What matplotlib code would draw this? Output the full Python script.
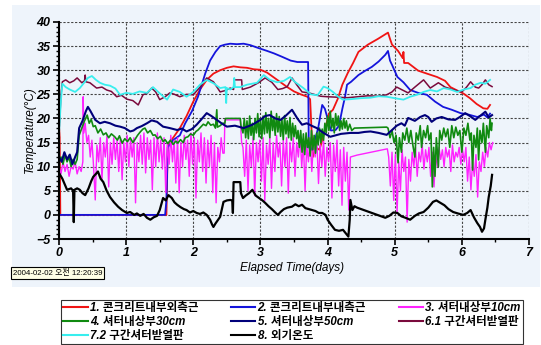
import numpy as np
import matplotlib
matplotlib.use('Agg')
import matplotlib.pyplot as plt
from matplotlib.patches import Rectangle

plt.rcParams['font.family'] = ['Liberation Sans', 'Noto Sans CJK KR']

labels = ['1. 콘크리트내부외측근', '2. 콘크리트내부내측근', '3. 셔터내상부10cm',
          '4. 셔터내상부30cm', '5. 셔터내상부50cm', '6.1 구간셔터받열판',
          '7.2 구간셔터받열판', '8. 외기온도']
colors = ['#f01414', '#1414dc', '#ff22ff', '#108a10', '#00007a', '#7a0a3c', '#38eeee', '#000000']
stamp = '2004-02-02 오전 12:20:39'

# 1. red
t1 = [0, 0.01, 0.02, 1.60, 1.62, 1.70, 1.80, 1.90, 2.00, 2.10, 2.20, 2.30, 2.40, 2.50, 2.60, 2.70,
      2.80, 2.90, 3.00, 3.10, 3.20, 3.30, 3.40, 3.50, 3.60, 3.70, 3.74, 3.78, 3.82, 3.88, 3.95, 4.02,
      4.08, 4.15, 4.22, 4.30, 4.38, 4.46, 4.60, 4.75, 4.90, 4.93, 4.96, 5.05, 5.12, 5.13, 5.14, 5.20,
      5.35, 5.50, 5.63, 5.75, 5.83, 5.93, 6.02, 6.12, 6.22, 6.32, 6.38, 6.42]
v1 = [18.5, 16, 0, 0, 14.5, 16, 18, 20.5, 23.5, 26, 28, 29.3, 30, 30.5, 30.8, 30.6,
      30.5, 30.2, 30.1, 29.5, 28.5, 27.5, 26.5, 25.6, 25, 24.5, 24, 12, 14, 13.5, 17, 21,
      21.8, 24, 27, 29.4, 31.5, 33.8, 35.3, 36.5, 37.8, 36.5, 35.3, 34, 32.5, 33.8, 31.5, 31.5,
      29.9, 29.2, 28.6, 27.8, 26.5, 25.8, 25.2, 24.2, 23, 22.1, 22, 22.8]

# 2. blue
t2 = [0, 1.58, 1.60, 1.62, 1.70, 1.80, 1.88, 1.98, 2.07, 2.18, 2.25, 2.33, 2.40, 2.47, 2.55, 2.65,
      2.75, 2.85, 2.97, 3.10, 3.20, 3.32, 3.45, 3.55, 3.71, 3.72, 3.76, 3.80, 3.86, 3.92, 3.96, 4.00,
      4.05, 4.12, 4.17, 4.22, 4.26, 4.29, 4.35, 4.46, 4.55, 4.66, 4.76, 4.86, 4.90, 4.93, 4.96, 5.04,
      5.13, 5.23, 5.35, 5.48, 5.60, 5.72, 5.85, 5.98, 6.10, 6.23, 6.33, 6.38, 6.42]
v2 = [0, 0, 3, 14, 15.5, 16.5, 19, 21.5, 24.5, 29.4, 32, 33.8, 35, 35.3, 35.5, 35.4,
      35.5, 35.2, 34.6, 34, 33.5, 32.8, 32, 31.7, 31.7, 14, 13.5, 15, 18, 22.8, 22, 20,
      17.5, 17.6, 18.5, 22, 24.5, 27, 27.6, 29, 29.8, 30.7, 31.8, 33.2, 34, 32, 31.1, 28.6,
      27.5, 25.9, 25.3, 24.9, 23.5, 22.4, 21.8, 21.1, 20.8, 20.3, 20.8, 20.2, 21]

# 3. magenta
t3a = [0, 0.03, 0.06, 0.09, 0.12, 0.15, 0.18, 0.21, 0.24, 0.27, 0.30, 0.33, 0.355, 0.36, 0.37]
v3a = [10, 8.5, 11, 9, 10.5, 8, 10, 9.5, 11, 8.5, 10, 9, 11, 24.5, 17]
v3b = [19, 15, 16.5, 12, 15.5, 10, 3.1, 14.5, 11, 16, 7.3, 15, 12, 16.5, 5.8, 15, 10.5, 16, 11.5,
       15.5, 9, 16, 7.3, 15, 11, 16.5, 10, 15.5, 12, 16, 2.5, 15, 11, 16.5, 10.5, 17, 8.7, 16,
       11.5, 15.5, 5.2, 16, 10, 17, 11, 15.5, 9.5, 16, 4.6, 15, 10.5, 16.5, 11, 15.5, 6.6, 16,
       4.6, 15, 10, 16.5, 11.5, 15.5, 8, 17, 10.5, 16, 3.5, 15.5, 11, 17, 9, 16, 6.6, 15.5, 10,
       16.5, 4.6, 15, 2.5, 14, 11, 16, 12.8]
t3c = [2.46, 2.47, 2.70, 2.72]
v3c = [12.8, 19.7, 19.7, 15]
v3d = [14, 8, 15.5, 5, 14.5, 10, 16, 4, 15, 11, 15.5, 7, 16, 3, 14.5, 10.5, 16, 5.5, 15, 9,
       16.5, 12, 15, 6, 15.5, 10, 16, 4.5, 15, 11, 16, 8, 15, 12, 16.5, 10, 15, 5, 14.5, 11,
       16, 9, 15, 12, 15.5, 6.5, 14.5, 10, 15.5, 8, 14, 11, 15, 3.5, 14.5, 9, 15.5, 6, 13.5,
       2, 14, 7, 13, 1, 12]
t3e = [4.44, 4.89]
v3e = [12.4, 13.7]
v3f = [12, 6, 13, 3, 12.5, 0.4, 11, 5, 13.5, 9, 12, -1.5, 11.5, 7, 13, 10, 14, 8, 13, 11,
       14.5, 9.5, 13.5, 11, 14, 8, 13, 5.8, 12.5, 10, 14, 11.5, 13.5, 10, 14, 12, 13.5, 9,
       14.5, 11, 13, 12, 14, 10.5, 13.5, 11, 14, 7, 12, 5.2, 11, 8, 12.5, 3.7, 11, 9, 13, 10,
       14, 12, 15, 13.5, 15]

# 4. green
t4a = [0, 0.03, 0.06, 0.09, 0.12, 0.15, 0.18, 0.21, 0.24, 0.27, 0.30, 0.34, 0.38, 0.42, 0.45,
       0.48, 0.51, 0.54, 0.58, 0.62, 0.66, 0.70, 0.74, 0.78, 0.83, 0.87, 0.90, 0.94, 0.98, 1.02,
       1.06, 1.10, 1.13, 1.17, 1.21, 1.25, 1.28, 1.32, 1.36, 1.40, 1.43, 1.47, 1.51, 1.55, 1.58,
       1.62, 1.66, 1.70, 1.74, 1.77, 1.81, 1.85, 1.88, 1.92, 1.96, 2.00, 2.04, 2.07, 2.11, 2.15,
       2.19, 2.22, 2.26, 2.30, 2.33, 2.35, 2.36, 2.40, 2.44, 2.47, 2.48, 2.70, 2.71]
v4a = [11, 12, 10.5, 12.5, 11, 12, 10, 11.5, 10.5, 11.5, 16.5, 18, 19.5, 20.7, 19,
       19.8, 18.3, 18.5, 17, 17.8, 16.6, 17, 16, 16.8, 16.2, 15.5, 16.4, 14.9, 15.8, 15.2,
       16, 15, 15.6, 16.5, 17.2, 17.8, 18, 17, 17.5, 16.5, 16.6, 15.8, 16.3, 15.2, 15.6,
       14.8, 15.5, 14.6, 15.3, 14.9, 15.6, 15, 16, 16.2, 16.8, 16.5, 17.3, 17.6, 18.2, 18.8,
       18.5, 19.3, 18.6, 18.8, 18, 21.8, 18.2, 18.5, 19, 19, 20, 20, 18.5]
v4b = [17, 20, 16, 19.5, 15.8, 20.5, 16.5, 19, 15.6, 20, 17, 21, 16.2, 19.8, 15.8, 20.5, 16.8,
       21.2, 17, 20, 16, 21.5, 17.5, 20.3, 16.5, 21, 17.2, 20.4, 16.3, 19.8, 15.6, 20.6, 16.8,
       19.5, 16, 20.2, 15.5, 19, 16.2, 18.5, 15.8, 17.5, 14, 17.5, 13, 16.8, 12.5, 17, 14, 16,
       12.2, 17.5, 13.5, 16.5, 12.8, 17, 14.5, 18, 15, 17.8, 15.5, 19, 17, 20.5, 17.5, 21.5,
       18, 20, 17, 21, 18.5, 20.5, 17.5, 19.5, 17.8, 20, 18, 19.5, 17.5]
t4c = [4.33, 4.36, 4.40, 4.88]
v4c = [18.8, 17.5, 18, 18.2]
t4d = [4.90, 4.93, 4.96, 4.99, 5.02, 5.05, 5.07, 5.10, 5.12, 5.15, 5.18, 5.21, 5.24, 5.27, 5.30,
       5.32, 5.35, 5.38, 5.40, 5.43, 5.46, 5.49, 5.51, 5.54, 5.56, 5.58, 5.60, 5.62, 5.65, 5.67,
       5.70, 5.73, 5.76, 5.79, 5.82, 5.85, 5.88, 5.91, 5.94, 5.97, 6.00, 6.03, 6.06, 6.09, 6.12,
       6.14, 6.16, 6.18, 6.21, 6.23, 6.25, 6.27, 6.30, 6.32, 6.35, 6.37, 6.40, 6.42, 6.44, 6.45]
v4d = [18, 16, 17.5, 15, 16.5, 10.8, 16, 13, 17, 15.5, 18, 15, 17.5, 14.5, 12,
       17, 15.5, 18.5, 14, 17.5, 16, 18.5, 15.5, 17, 5.8, 14, 8, 16, 10, 17.5,
       15.5, 18, 16.2, 17.8, 14, 18.5, 16, 18.2, 16.5, 17.5, 13, 18, 16.5, 19, 15.5,
       17, 9.3, 16.5, 14, 18, 11.4, 17.5, 15, 19, 13, 18.5, 16, 20, 17.5, 19]

# 5. navy
t5 = [0, 0.04, 0.08, 0.12, 0.16, 0.20, 0.24, 0.27, 0.30, 0.35, 0.40, 0.43, 0.47, 0.54, 0.61, 0.68,
      0.76, 0.84, 0.91, 0.98, 1.06, 1.11, 1.16, 1.23, 1.31, 1.38, 1.46, 1.55, 1.65, 1.76, 1.83,
      1.90, 1.98, 2.05, 2.12, 2.20, 2.27, 2.35, 2.42, 2.50, 2.62, 2.75, 2.88, 3.00, 3.07, 3.14,
      3.22, 3.30, 3.38, 3.47, 3.55, 3.62, 3.69, 3.76, 3.84, 3.94, 4.04, 4.12, 4.20, 4.34, 4.46,
      4.55, 4.64, 4.76, 4.88, 4.96, 5.03, 5.10, 5.15, 5.20, 5.30, 5.38, 5.45, 5.50, 5.55, 5.62,
      5.70, 5.80, 5.90, 5.97, 6.05, 6.12, 6.20, 6.27, 6.35, 6.40, 6.45]
v5 = [12, 11, 13, 11.5, 12.5, 10.5, 12, 13, 18, 19.5, 21.5, 22.4, 21.5, 19.7, 19, 19.3,
      19, 18.5, 18.3, 18, 17.3, 17.5, 18, 18.4, 19, 19.6, 19.3, 18.3, 18, 17.6, 17.9,
      17.3, 17.8, 18.7, 19.8, 21.1, 20.5, 19.7, 19, 18.3, 18.5, 18, 18.7, 19.7, 20.5, 20.7,
      20, 19.7, 20.6, 21.8, 20, 18.7, 19, 18.5, 18, 17, 16.2, 16.5, 16.8, 17, 17,
      17.2, 17.3, 17, 16.6, 17.6, 18.5, 19, 18.5, 20.1, 19.5, 20.3, 20.7, 20.3, 19.3, 20,
      20.3, 19.8, 19.7, 20.3, 21.1, 20.5, 19.7, 20.5, 21.4, 20.2, 20.7]

# 6.1 maroon
t6 = [0, 0.03, 0.05, 0.10, 0.16, 0.22, 0.27, 0.34, 0.38, 0.39, 0.40, 0.46, 0.56, 0.64, 0.71, 0.78,
      0.86, 0.93, 1.01, 1.10, 1.18, 1.25, 1.32, 1.38, 1.44, 1.50, 1.58, 1.65, 1.72, 1.80, 1.90,
      2.00, 2.10, 2.20, 2.30, 2.40, 2.48, 2.55, 2.60, 2.61, 2.72, 2.73, 2.85, 2.97, 3.07, 3.17,
      3.26, 3.33, 3.40, 3.47, 3.54, 3.62, 3.72, 3.82, 3.90, 4.00, 4.15, 4.30, 4.45, 4.60, 4.75,
      4.88, 4.96, 5.03, 5.10, 5.20, 5.30, 5.43, 5.53, 5.65, 5.75, 5.86, 6.00, 6.07, 6.13, 6.20,
      6.25, 6.30, 6.35, 6.40, 6.45]
v6 = [17, 25, 27.6, 28, 27.4, 27.8, 28.4, 27.4, 27.8, 29, 27.6, 27.4, 26.3, 26.5, 25.9, 25.6,
      24.5, 24.8, 24, 23.7, 22.8, 24.9, 25.3, 26.3, 25.5, 23.9, 24.5, 25.3, 25, 24.5, 25,
      24.9, 26.5, 28.4, 27.6, 25.5, 25.8, 26.3, 26, 28, 28, 26, 26.5, 27.4, 28.4, 27.5,
      26, 26.2, 26.6, 28.4, 27, 25.5, 25.3, 24.9, 24.6, 24.5, 24.4, 24.3, 24.5, 24.7, 24.6,
      24.9, 25.5, 26.5, 26, 25.3, 26.5, 28, 26.3, 27.4, 26.5, 26, 25.5, 26.5, 27.6, 26.5,
      26.3, 27, 28, 27, 26.6]

# 7.2 cyan
t7 = [0, 0.03, 0.05, 0.10, 0.16, 0.24, 0.31, 0.38, 0.43, 0.49, 0.55, 0.61, 0.68, 0.76, 0.84, 0.91,
      1.00, 1.10, 1.20, 1.31, 1.40, 1.50, 1.61, 1.70, 1.80, 1.90, 2.00, 2.10, 2.20, 2.30, 2.40,
      2.48, 2.49, 2.50, 2.55, 2.60, 2.61, 2.62, 2.70, 2.80, 2.95, 3.05, 3.14, 3.25, 3.35, 3.44,
      3.52, 3.64, 3.75, 3.85, 3.94, 4.00, 4.08, 4.16, 4.23, 4.35, 4.50, 4.64, 4.76, 4.88, 5.00,
      5.13, 5.23, 5.33, 5.43, 5.53, 5.63, 5.73, 5.83, 5.93, 6.03, 6.13, 6.20, 6.28, 6.35, 6.42]
v7 = [17, 24, 27.2, 26.5, 26, 25.5, 26.3, 27.5, 28.4, 28.8, 28, 27.4, 27, 26.8, 26.2, 24.9,
      25.3, 25.1, 25.6, 25.3, 26.5, 25.2, 23.9, 26, 25.5, 24.5, 25.5, 27, 28, 27.3, 26.3,
      26.5, 23.2, 26.3, 26, 26.5, 28.4, 26.5, 26.5, 27, 27.4, 29, 28, 27.5, 27.8, 28.6,
      27.5, 26.3, 25, 24.8, 26.6, 26.3, 25.5, 24.5, 23.9, 24, 24.2, 24.3, 24.6, 24.5, 24.2,
      23.9, 24.5, 24.9, 25.5, 25.9, 25.6, 26.3, 26, 25.5, 26, 26.3, 27, 27.4, 27.2, 28]

# 8. black
t8 = [0, 0.05, 0.12, 0.18, 0.21, 0.22, 0.23, 0.27, 0.31, 0.35, 0.39, 0.44, 0.48, 0.51, 0.55, 0.58,
      0.62, 0.66, 0.71, 0.76, 0.82, 0.88, 0.94, 1.01, 1.06, 1.12, 1.16, 1.21, 1.26, 1.31, 1.36,
      1.41, 1.46, 1.50, 1.53, 1.55, 1.59, 1.63, 1.68, 1.72, 1.76, 1.81, 1.86, 1.90, 1.95, 2.00,
      2.05, 2.10, 2.15, 2.20, 2.25, 2.28, 2.30, 2.33, 2.37, 2.40, 2.43, 2.45, 2.50, 2.55, 2.58,
      2.59, 2.60, 2.70, 2.71, 2.74, 2.78, 2.83, 2.88, 2.93, 2.98, 3.03, 3.07, 3.12, 3.17, 3.22,
      3.26, 3.30, 3.35, 3.40, 3.47, 3.52, 3.57, 3.62, 3.67, 3.72, 3.77, 3.82, 3.87, 3.92, 3.97,
      4.00, 4.05, 4.11, 4.17, 4.23, 4.27, 4.31, 4.33, 4.34, 4.37, 4.40, 4.44, 4.86, 4.92, 4.98,
      5.04, 5.10, 5.16, 5.23, 5.30, 5.36, 5.43, 5.50, 5.57, 5.62, 5.68, 5.74, 5.80, 5.87, 5.94,
      6.02, 6.08, 6.13, 6.18, 6.23, 6.27, 6.30, 6.33, 6.35, 6.38, 6.40, 6.43, 6.45]
v8 = [8.7, 7.5, 5.2, 5.5, 5, -1.5, 5.2, 5.5, 5.2, 4.5, 4.1, 5.5, 7, 7.9, 8.5, 9,
      7.5, 6.8, 5, 3.7, 2.6, 1.7, 1, 0.4, 0.6, 0, 0.3, -0.2, 0.2, -0.6, -1,
      -0.5, -0.2, 1, 2.5, 3.5, 3, 4.1, 3.5, 2.6, 2.1, 1.6, 1.2, 1, 0.5, 0.8,
      0.4, 0.2, 0.5, 0, -1, -2, -2.5, -1.8, -1, -0.4, 1.5, 2.7, 3, 3.1, 3,
      0.4, 6.8, 6.8, 4.5, 3.5, 4, 4.5, 5.2, 4, 3.5, 3, 2.5, 1.8, 1.2, 0.5,
      0, 0.6, 1.2, 1.5, 1.7, 2.2, 1.8, 2.1, 1.4, 1.2, 1, 0.8, 0.4, 0.4, 0,
      -1, -2, -3.1, -3.3, -3.1, -3.8, -4.5, -1, 3.1, 1, 1.8, 1.5, -0.6, -0.2, 0.5,
      0.4, -0.3, -0.6, -1, -0.2, 0.3, 0.6, 1.5, 2.7, 3, 2.5, 2, 1.2, 0.6, 0.3,
      0, 0.4, 1, -0.5, -1.7, -2.5, -3.5, -2.8, -1, 1.5, 3.7, 6, 8.3]


def grid_times(start, step, values):
    return list(start + step * np.arange(len(values)))


t3 = t3a + grid_times(0.39, 0.025, v3b) + t3c + grid_times(2.74, 0.025, v3d) + t3e + grid_times(4.91, 0.025, v3f)
v3 = v3a + v3b + v3c + v3d + v3e + v3f
t4 = t4a + grid_times(2.74, 0.02, v4b) + t4c + t4d
v4 = v4a + v4b + v4c + v4d

series = [(t1, v1), (t2, v2), (t3, v3), (t4, v4), (t5, v5), (t6, v6), (t7, v7), (t8, v8)]
widths = [1.3, 1.3, 1.0, 1.2, 1.5, 1.1, 1.3, 1.6]

W, H = 541, 345
fig = plt.figure(figsize=(W / 100, H / 100), dpi=100, facecolor='white')
panel = '#eef4fb'
fig.patches.append(Rectangle((12 / W, 1 - 287 / H), 528 / W, 282 / H,
                             transform=fig.transFigure, facecolor=panel, edgecolor='none', zorder=-10))

ax = fig.add_axes([59 / W, 1 - 239 / H, 470 / W, 217 / H])
ax.set_facecolor(panel)
lines = []
for (tt, vv), c, lw, lab in zip(series, colors, widths, labels):
    ln, = ax.plot(tt, vv, color=c, lw=lw, label=lab)
    lines.append(ln)

ax.set_xlim(0, 7)
ax.set_ylim(-5, 40)
ax.set_xticks(range(0, 8))
ax.set_yticks(range(-5, 41, 5))
ax.set_xticks(np.arange(0, 7.01, 0.5), minor=True)
ax.set_yticks(range(-5, 41), minor=True)
ax.grid(True, which='major', color='#444444', ls=(0, (2, 1.5)), lw=0.8)
for s in ['top', 'right']:
    ax.spines[s].set_visible(False)
for s in ['left', 'bottom']:
    ax.spines[s].set_linewidth(1.5)
ax.tick_params(which='major', direction='out', length=4, width=1.2, pad=2)
ax.tick_params(which='minor', direction='out', length=2.5, width=1)
for lab in ax.get_xticklabels() + ax.get_yticklabels():
    lab.set_fontweight('bold')
    lab.set_fontstyle('italic')
    lab.set_fontsize(9)

fig.text(30 / W, 1 - 130 / H, 'Temperature(°C)', rotation=90, ha='center', va='center',
         fontsize=8.5, style='italic')
fig.text(292 / W, 1 - 268 / H, 'Elapsed Time(days)', ha='center', va='center',
         fontsize=8.5, style='italic')
fig.text(13 / W, 1 - 273 / H, stamp, ha='left', va='center', fontsize=5.7,
         bbox=dict(boxstyle='square,pad=0.2', facecolor='#ffffe6', edgecolor='black', lw=0.8))

order = [0, 3, 6, 1, 4, 7, 2, 5]
leg = fig.legend([lines[i] for i in order], [labels[i] for i in order], ncol=3,
                 loc='lower left', bbox_to_anchor=(61 / W, 1 - 344 / H, 462 / W, 42 / H),
                 mode='expand', frameon=True, fancybox=False, borderpad=0.2,
                 labelspacing=0.15, handlelength=2.1, handletextpad=0.2, columnspacing=0.3,
                 borderaxespad=0, prop=dict(family=['Liberation Sans', 'Noto Sans CJK KR'],
                                            size=8.3, weight='bold', style='italic'))
leg.get_frame().set_edgecolor('black')
leg.get_frame().set_linewidth(0.8)
for h in leg.legend_handles:
    h.set_linewidth(1.5)

fig.savefig('out.png', dpi=100, facecolor='white')
